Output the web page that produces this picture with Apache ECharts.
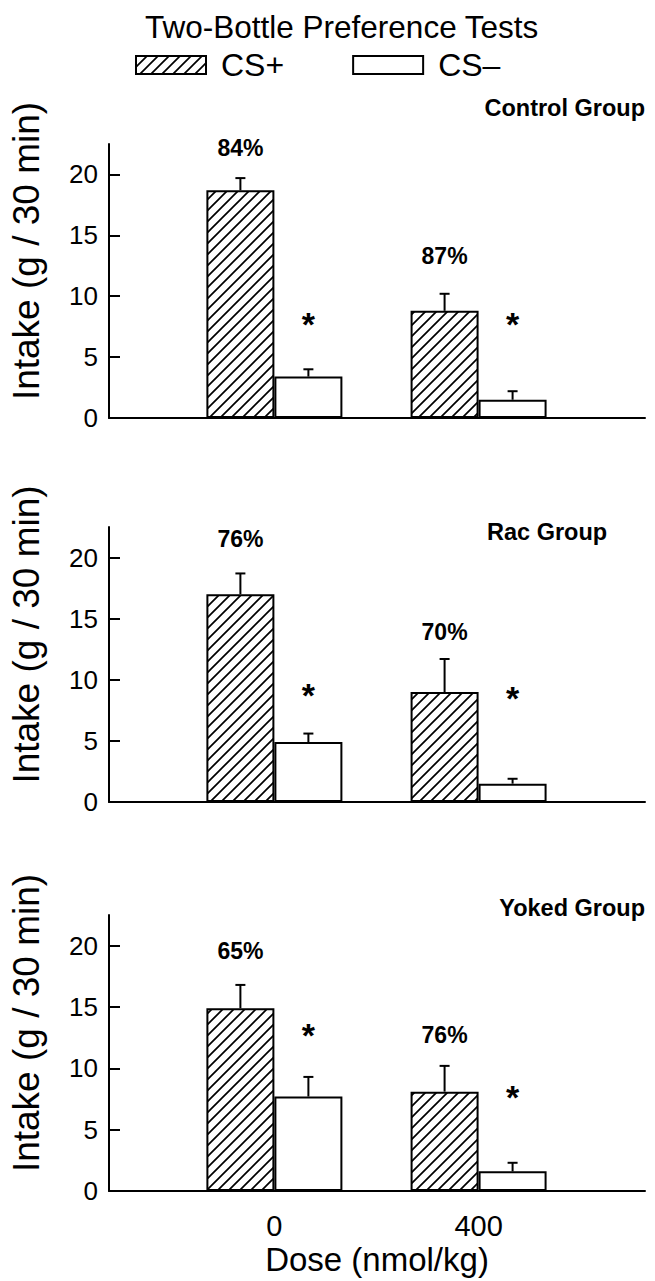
<!DOCTYPE html>
<html>
<head>
<meta charset="utf-8">
<script src="https://cdn.jsdelivr.net/npm/echarts@6/dist/echarts.min.js"></script>
<style>
html,body{margin:0;padding:0;background:#fff;}
#chart{width:655px;height:1281px;}
</style>
</head>
<body>
<div id="chart"></div>
<script>
// ---------------- data ----------------
const doses = [0, 400];
const doseLabels = ['0', '400'];
const groupNames = ['Control Group', 'Rac Group', 'Yoked Group'];
const seriesNames = ['CS+', 'CS\u2013'];
// mean intake (g / 30 min), one row per group, columns = doses
const csPlusMean = [[18.7, 8.8], [17.0, 9.0], [14.9, 8.1]];
const csPlusSem = [[1.0, 1.4], [1.7, 2.7], [1.9, 2.1]];
const csMinusMean = [[3.4, 1.5], [4.9, 1.5], [7.7, 1.6]];
const csMinusSem = [[0.6, 0.7], [0.7, 0.4], [1.6, 0.7]];
// preference (% CS+) and the level at which it is printed
const prefText = [['84%', '87%'], ['76%', '70%'], ['65%', '76%']];
const prefLevel = [[22.2, 13.3], [21.5, 13.9], [19.6, 12.7]];
// significance markers over CS- bars and their level
const sigText = [['*', '*'], ['*', '*'], ['*', '*']];
const sigLevel = [[8.1, 8.1], [9.2, 8.95], [13.1, 8.1]];
const yTicks = [0, 5, 10, 15, 20];
const yMax = 22.5;
const xMin = -324, xMax = 726;

// ---------------- styling ----------------
const FONT = 'Liberation Sans, Arial, Helvetica, sans-serif';
const BAR_W = 68;
const CAP_W = 10;
const panels = [
  {top: 144, height: 274},
  {top: 527, height: 275},
  {top: 915, height: 276}
];
const groupTitlePos = [
  {right: 10, top: 96},
  {left: 487, top: 520},
  {right: 10, top: 896}
];

function makeHatch() {
  const p = 11;
  const c = document.createElement('canvas');
  c.width = p; c.height = p;
  const g = c.getContext('2d');
  g.fillStyle = '#fff';
  g.fillRect(0, 0, p, p);
  g.strokeStyle = '#000';
  g.lineWidth = 1.7;
  g.beginPath();
  g.moveTo(-1, p + 1); g.lineTo(p + 1, -1);
  g.moveTo(-2, 2); g.lineTo(2, -2);
  g.moveTo(p - 2, p + 2); g.lineTo(p + 2, p - 2);
  g.stroke();
  return {image: c.toDataURL(), repeat: 'repeat', imageWidth: p, imageHeight: p};
}
const hatch = makeHatch();

const grid = [], xAxis = [], yAxis = [], series = [];
panels.forEach((p, i) => {
  const last = i === panels.length - 1;
  grid.push({left: 104, right: 10, top: p.top, height: p.height});
  xAxis.push({
    type: 'value', gridIndex: i, min: xMin, max: xMax,
    splitLine: {show: false},
    axisLine: {show: true, onZero: false, lineStyle: {color: '#000', width: 2}},
    axisTick: {show: false},
    axisLabel: {
      show: last, customValues: doses, margin: 20,
      formatter: v => doseLabels[doses.indexOf(v)] || '',
      fontFamily: FONT, fontSize: 29, color: '#000'
    },
    name: last ? 'Dose (nmol/kg)' : '',
    nameLocation: 'middle', nameGap: 52,
    nameTextStyle: {fontFamily: FONT, fontSize: 33, color: '#000'}
  });
  yAxis.push({
    type: 'value', gridIndex: i, min: 0, max: yMax,
    splitLine: {show: false},
    axisLine: {show: true, onZero: false, lineStyle: {color: '#000', width: 2}},
    axisTick: {show: true, inside: true, length: 11, customValues: yTicks, lineStyle: {color: '#000', width: 2}},
    axisLabel: {customValues: yTicks, margin: 11, fontFamily: FONT, fontSize: 26, color: '#000'},
    name: 'Intake (g / 30 min)', nameLocation: 'middle', nameGap: 64,
    nameTextStyle: {fontFamily: FONT, fontSize: 37, color: '#000', padding: [0, 0, 0, 60]}
  });
  series.push({
    name: seriesNames[0], type: 'bar', xAxisIndex: i, yAxisIndex: i,
    barWidth: BAR_W, barGap: '0%',
    itemStyle: {color: hatch, borderColor: '#000', borderWidth: 2},
    data: doses.map((d, j) => [d, csPlusMean[i][j]]),
    silent: true
  });
  series.push({
    name: seriesNames[1], type: 'bar', xAxisIndex: i, yAxisIndex: i,
    barWidth: BAR_W, barGap: '0%',
    itemStyle: {color: '#fff', borderColor: '#000', borderWidth: 2},
    data: doses.map((d, j) => [d, csMinusMean[i][j]]),
    silent: true
  });
  // error bars (SEM, upper only)
  const errData = [];
  doses.forEach((d, j) => {
    errData.push([d, csPlusMean[i][j], csPlusSem[i][j], -1]);
    errData.push([d, csMinusMean[i][j], csMinusSem[i][j], 1]);
  });
  series.push({
    type: 'custom', xAxisIndex: i, yAxisIndex: i, silent: true, z: 3,
    data: errData,
    renderItem: (params, api) => {
      const d = api.value(0), m = api.value(1), s = api.value(2), side = api.value(3);
      const b = api.coord([d, m]);
      const t = api.coord([d, m + s]);
      const x = b[0] + side * BAR_W / 2;
      const st = {stroke: '#000', lineWidth: 2};
      return {type: 'group', children: [
        {type: 'line', shape: {x1: x, y1: b[1], x2: x, y2: t[1]}, style: st},
        {type: 'line', shape: {x1: x - CAP_W / 2, y1: t[1], x2: x + CAP_W / 2, y2: t[1]}, style: st}
      ]};
    }
  });
  // annotations: preference % over CS+ bars, asterisks over CS- bars
  const annData = [];
  doses.forEach((d, j) => {
    annData.push([d, prefLevel[i][j], -1, j, 0]);
    annData.push([d, sigLevel[i][j], 1, j, 1]);
  });
  series.push({
    type: 'custom', xAxisIndex: i, yAxisIndex: i, silent: true, z: 4,
    data: annData,
    renderItem: (params, api) => {
      const d = api.value(0), lv = api.value(1), side = api.value(2), j = api.value(3), kind = api.value(4);
      const c = api.coord([d, lv]);
      const txt = kind === 0 ? prefText[i][j] : sigText[i][j];
      return {
        type: 'text', x: c[0] + side * BAR_W / 2, y: c[1] + (kind === 1 ? 5 : 0),
        style: {
          text: txt, fill: '#000', align: 'center', verticalAlign: 'middle',
          font: 'bold ' + (kind === 0 ? 23 : 34) + 'px ' + FONT
        }
      };
    }
  });
});

const titles = [{
  text: 'Two-Bottle Preference Tests', left: 145, top: 11, padding: 0,
  textStyle: {fontFamily: FONT, fontSize: 31.5, fontWeight: 'normal', color: '#000'}
}];
groupNames.forEach((g, i) => {
  titles.push(Object.assign({
    text: g, padding: 0,
    textStyle: {fontFamily: FONT, fontSize: 23.5, fontWeight: 'bold', color: '#000'}
  }, groupTitlePos[i]));
});

const chart = echarts.init(document.getElementById('chart'), null, {renderer: 'svg'});
chart.setOption({
  animation: false,
  backgroundColor: '#fff',
  title: titles,
  legend: {
    data: seriesNames, left: 130, top: 44, itemWidth: 70, itemHeight: 18, itemGap: 68,
    icon: 'rect', selectedMode: false,
    textStyle: {fontFamily: FONT, fontSize: 32, color: '#000', padding: [0, 0, 0, 10]}
  },
  grid: grid, xAxis: xAxis, yAxis: yAxis, series: series
});
</script>
</body>
</html>
